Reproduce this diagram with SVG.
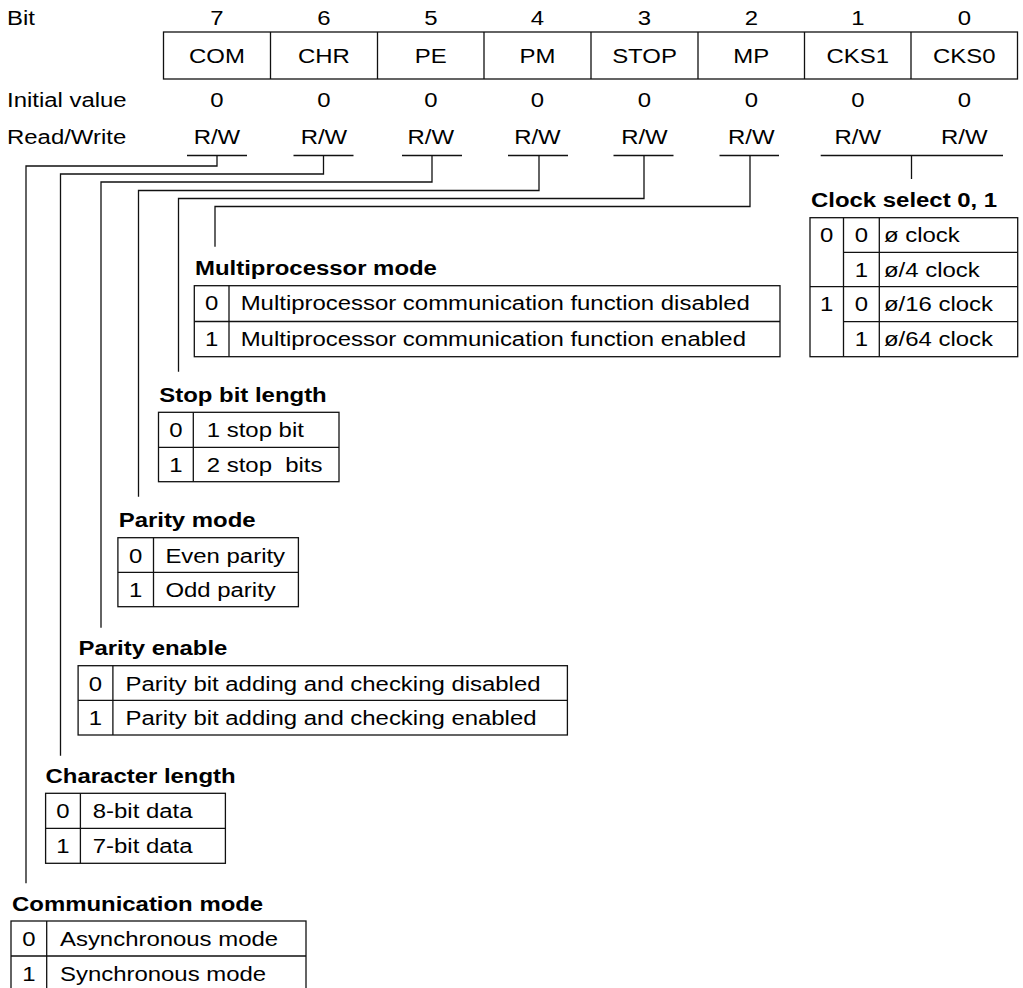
<svg xmlns="http://www.w3.org/2000/svg" width="1023" height="988" viewBox="0 0 1023 988">
<style>
text { font-family: "Liberation Sans", Arial, Helvetica, sans-serif; font-size: 21px; fill: #000; }
.s { transform-box: fill-box; transform-origin: 0 50%; transform: scaleX(1.14); }
.m { text-anchor: middle; transform-box: fill-box; transform-origin: 50% 50%; transform: scaleX(1.14); }
.t { font-weight: bold; transform-box: fill-box; transform-origin: 0 50%; transform: scaleX(1.14); }
.ln { fill: none; stroke: #111; stroke-width: 1.3; }
.pre { white-space: pre; }
</style>
<rect width="1023" height="988" fill="#fff"/>

<g id="register">
  <text class="s" x="7" y="25">Bit</text>
  <text class="m" x="217" y="25">7</text>
  <text class="m" x="324" y="25">6</text>
  <text class="m" x="430.8" y="25">5</text>
  <text class="m" x="537.5" y="25">4</text>
  <text class="m" x="644.5" y="25">3</text>
  <text class="m" x="751.3" y="25">2</text>
  <text class="m" x="857.8" y="25">1</text>
  <text class="m" x="964.3" y="25">0</text>
  <rect class="ln" x="163.5" y="32" width="854" height="47"/>
  <path class="ln" d="M270.5 32V79M377.5 32V79M484 32V79M591 32V79M698 32V79M804.5 32V79M911 32V79"/>
  <text class="m" x="217" y="63">COM</text>
  <text class="m" x="324" y="63">CHR</text>
  <text class="m" x="430.8" y="63">PE</text>
  <text class="m" x="537.5" y="63">PM</text>
  <text class="m" x="644.5" y="63">STOP</text>
  <text class="m" x="751.3" y="63">MP</text>
  <text class="m" x="857.8" y="63">CKS1</text>
  <text class="m" x="964.3" y="63">CKS0</text>
  <text class="s" x="7" y="107">Initial value</text>
  <text class="m" x="217" y="107">0</text>
  <text class="m" x="324" y="107">0</text>
  <text class="m" x="430.8" y="107">0</text>
  <text class="m" x="537.5" y="107">0</text>
  <text class="m" x="644.5" y="107">0</text>
  <text class="m" x="751.3" y="107">0</text>
  <text class="m" x="857.8" y="107">0</text>
  <text class="m" x="964.3" y="107">0</text>
  <text class="s" x="7" y="144">Read/Write</text>
  <text class="m" x="217" y="144">R/W</text>
  <text class="m" x="324" y="144">R/W</text>
  <text class="m" x="430.8" y="144">R/W</text>
  <text class="m" x="537.5" y="144">R/W</text>
  <text class="m" x="644.5" y="144">R/W</text>
  <text class="m" x="751.3" y="144">R/W</text>
  <text class="m" x="857.8" y="144">R/W</text>
  <text class="m" x="964.3" y="144">R/W</text>
</g>

<g id="connectors" class="ln">
  <path d="M187 155.5H247M293.5 155.5H353.5M402 155.5H462M508 155.5H568M613.5 155.5H673.5M719.5 155.5H779M820.7 155.5H1003"/>
  <path d="M217 155.5V166H26V883.3"/>
  <path d="M323.5 155.5V174H60.5V755.7"/>
  <path d="M432 155.5V182H101V627.7"/>
  <path d="M539 155.5V190.5H138.5V496.7"/>
  <path d="M644 155.5V198.5H178.5V371.7"/>
  <path d="M750 155.5V206.5H215V246.7"/>
  <path d="M911.5 155.5V179"/>
</g>

<g id="clock-select">
  <text class="t" x="811" y="207">Clock select 0, 1</text>
  <rect class="ln" x="810" y="217.7" width="207.7" height="139"/>
  <path class="ln" d="M843.5 217.7V356.7M879.3 217.7V356.7M810 286.7H1017.7M843.5 252.3H1017.7M843.5 321.7H1017.7"/>
  <text class="m" x="826.7" y="242.5">0</text>
  <text class="m" x="826.7" y="311.5">1</text>
  <text class="m" x="861.4" y="242.5">0</text>
  <text class="m" x="861.4" y="277">1</text>
  <text class="m" x="861.4" y="311.5">0</text>
  <text class="m" x="861.4" y="346.5">1</text>
  <text class="s" x="884" y="242.5">ø clock</text>
  <text class="s" x="884" y="277">ø/4 clock</text>
  <text class="s" x="884" y="311.5">ø/16 clock</text>
  <text class="s" x="884" y="346.5">ø/64 clock</text>
</g>

<g id="multiprocessor-mode">
  <text class="t" x="195" y="275">Multiprocessor mode</text>
  <rect class="ln" x="194.3" y="285.7" width="585.7" height="71"/>
  <path class="ln" d="M229 285.7V356.7M194.3 321.5H780"/>
  <text class="m" x="211.7" y="310.5">0</text>
  <text class="m" x="211.7" y="346.3">1</text>
  <text class="s" x="240.7" y="310.5">Multiprocessor communication function disabled</text>
  <text class="s" x="240.7" y="346.3">Multiprocessor communication function enabled</text>
</g>

<g id="stop-bit-length">
  <text class="t" x="159.3" y="402">Stop bit length</text>
  <rect class="ln" x="158.5" y="412.3" width="180.5" height="69.4"/>
  <path class="ln" d="M193.3 412.3V481.7M158.5 447.3H339"/>
  <text class="m" x="175.9" y="437.2">0</text>
  <text class="m" x="175.9" y="472.2">1</text>
  <text class="s" x="206.8" y="437.2">1 stop bit</text>
  <text class="s pre" x="206.8" y="472.2">2 stop  bits</text>
</g>

<g id="parity-mode">
  <text class="t" x="118.7" y="527">Parity mode</text>
  <rect class="ln" x="117.9" y="537.7" width="180.5" height="69"/>
  <path class="ln" d="M153.5 537.7V606.7M117.9 572.3H298.4"/>
  <text class="m" x="135.7" y="562.6">0</text>
  <text class="m" x="135.7" y="597.2">1</text>
  <text class="s" x="165.4" y="562.6">Even parity</text>
  <text class="s" x="165.4" y="597.2">Odd parity</text>
</g>

<g id="parity-enable">
  <text class="t" x="78.5" y="655">Parity enable</text>
  <rect class="ln" x="78.1" y="665.7" width="489.3" height="69.3"/>
  <path class="ln" d="M112.9 665.7V735M78.1 700.3H567.4"/>
  <text class="m" x="95.5" y="690.6">0</text>
  <text class="m" x="95.5" y="725.2">1</text>
  <text class="s" x="125.6" y="690.6">Parity bit adding and checking disabled</text>
  <text class="s" x="125.6" y="725.2">Parity bit adding and checking enabled</text>
</g>

<g id="character-length">
  <text class="t" x="45.6" y="783">Character length</text>
  <rect class="ln" x="45.6" y="793.3" width="179.8" height="70"/>
  <path class="ln" d="M80.4 793.3V863.3M45.6 828.3H225.4"/>
  <text class="m" x="63" y="818.2">0</text>
  <text class="m" x="63" y="853.2">1</text>
  <text class="s" x="92.8" y="818.2">8-bit data</text>
  <text class="s" x="92.8" y="853.2">7-bit data</text>
</g>

<g id="communication-mode">
  <text class="t" x="12" y="911">Communication mode</text>
  <rect class="ln" x="11" y="921" width="295" height="70"/>
  <path class="ln" d="M46.7 921V991M11 956H306"/>
  <text class="m" x="28.9" y="945.9">0</text>
  <text class="m" x="28.9" y="980.9">1</text>
  <text class="s" x="60" y="945.9">Asynchronous mode</text>
  <text class="s" x="60" y="980.9">Synchronous mode</text>
</g>
</svg>
